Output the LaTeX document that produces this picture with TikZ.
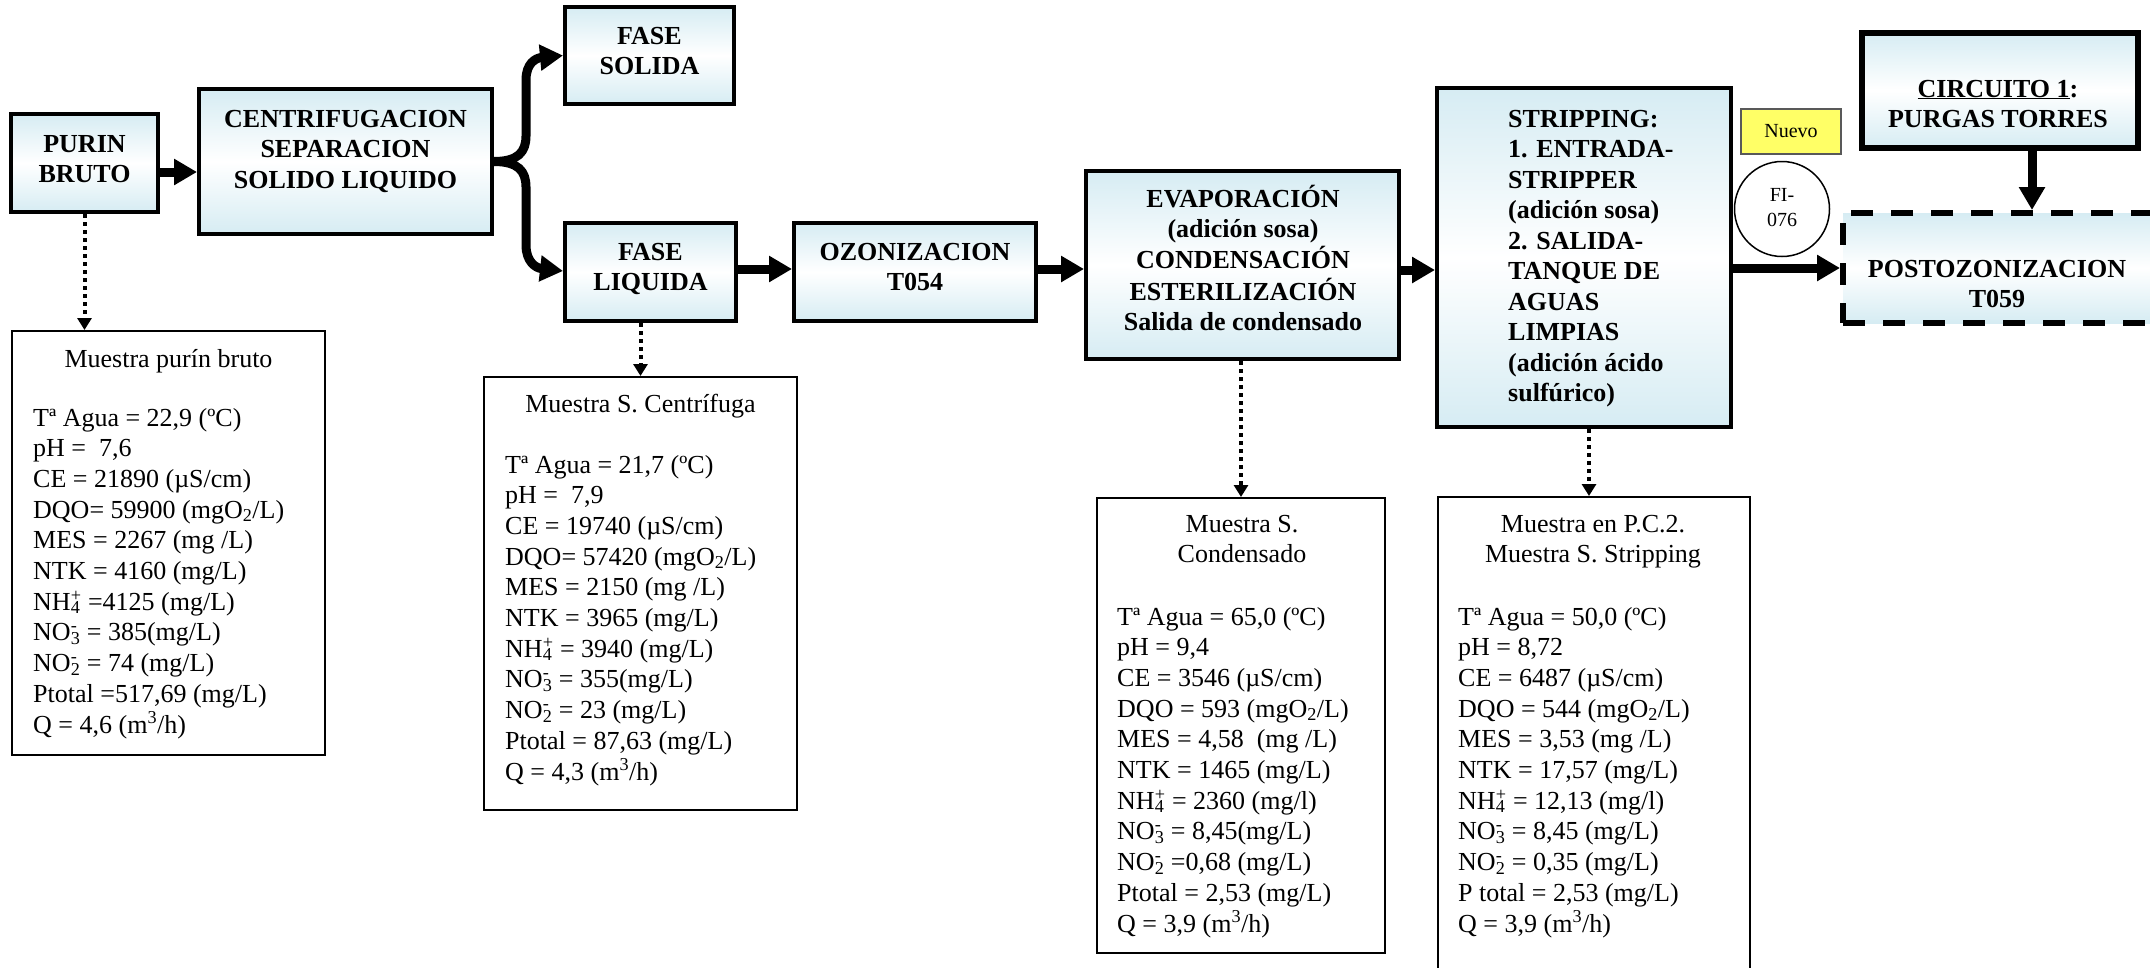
\documentclass[tikz,border=0pt]{standalone}
\usepackage{fontspec}
\setmainfont{Liberation Serif}[BoldFont={Liberation Serif Bold}]
\usetikzlibrary{arrows.meta,calc}
\definecolor{boxblue}{RGB}{214,236,243}
\definecolor{nuevoy}{RGB}{255,255,102}
\newcommand{\subsupx}[2]{\setbox0=\hbox{\textsubscript{#1}}\setbox2=\hbox{\textsuperscript{#2}}\ifdim\wd0>\wd2\relax\rlap{\box2\relax}\box0\relax\else\rlap{\box0\relax}\box2\relax\fi}
\newcommand{\tabC}[1]{\begin{tabular}[t]{@{}c@{}}#1\end{tabular}}
\newcommand{\tabL}[1]{\begin{tabular}[t]{@{}l@{}}#1\end{tabular}}
\tikzset{
  proc/.style={draw=black, line width=4pt, top color=boxblue, bottom color=boxblue, middle color=white, inner sep=0pt},
  ptext/.style={font=\bfseries\fontsize{26}{30.5}\selectfont, inner sep=0pt, anchor=base},
  sbox/.style={draw=black, line width=2pt, fill=white, inner sep=0pt},
  stitle/.style={font=\fontsize{26}{30}\selectfont, inner sep=0pt, anchor=base},
  sdata/.style={font=\fontsize{26}{30.7}\selectfont, inner sep=0pt, anchor=base west},
  flow/.style={line width=9pt, -{Triangle[length=23pt,width=25pt]}},
  brace/.style={line width=9pt, line join=round, -{Triangle[length=23pt,width=25pt]}},
  samp/.style={line width=4pt, dash pattern=on 4pt off 4pt, -{Triangle[length=12pt,width=14pt]}}
}
\begin{document}
\begin{tikzpicture}[x=1pt,y=-1pt]
\useasboundingbox (0,0) rectangle (2150,967);
% process boxes
\node[proc, minimum width=147pt, minimum height=98pt] (purin) at (84.5,163) {};
\node[ptext] (purintx) at (84.5,152) {\tabC{PURIN\\BRUTO}};
\node[proc, minimum width=293pt, minimum height=145pt] (centrif) at (345.5,161.5) {};
\node[ptext] (centriftx) at (345.5,127) {\tabC{CENTRIFUGACION\\SEPARACION\\SOLIDO LIQUIDO}};
\node[proc, minimum width=169pt, minimum height=97pt] (solida) at (649.5,55.5) {};
\node[ptext] (solidatx) at (649.5,44) {\tabC{FASE\\SOLIDA}};
\node[proc, minimum width=171pt, minimum height=98pt] (liquida) at (650.5,272) {};
\node[ptext] (liquidatx) at (650.5,260) {\tabC{FASE\\LIQUIDA}};
\node[proc, minimum width=242pt, minimum height=98pt] (ozon) at (915,272) {};
\node[ptext] (ozontx) at (915,260) {\tabC{OZONIZACION\\T054}};
\node[proc, minimum width=313pt, minimum height=188pt] (evap) at (1242.5,265) {};
\node[ptext] (evaptx) at (1243,207) {\tabC{EVAPORACIÓN\\(adición sosa)\\CONDENSACIÓN\\ESTERILIZACIÓN\\Salida de condensado}};
\node[proc, minimum width=294pt, minimum height=339pt] (strip) at (1584,257.5) {};
\node[ptext, anchor=base west] (striptx) at (1508,127) {\tabL{STRIPPING:\\1. ENTRADA-\\STRIPPER\\(adición sosa)\\2. SALIDA-\\TANQUE DE\\AGUAS\\LIMPIAS\\(adición ácido\\sulfúrico)}};
\node[draw=black!65, line width=1.5pt, fill=nuevoy, minimum width=100pt, minimum height=45pt, inner sep=0pt, font=\fontsize{20}{24}\selectfont] (nuevo) at (1791,131.5) {Nuevo};
\node[circle, draw=black, line width=1.5pt, fill=white, minimum size=95pt, inner sep=0pt, font=\fontsize{20}{25}\selectfont] (fi) at (1782,209) {\tabC{FI-\\076}};
\node[proc, line width=6pt, minimum width=276pt, minimum height=115pt] (circ) at (2000,90.5) {};
\node[ptext] (circtx) at (1998,97) {\tabC{\underline{CIRCUITO 1}:\\PURGAS TORRES}};
\node[proc, line width=6pt, dash pattern=on 22pt off 18pt, minimum width=340pt, minimum height=110pt] (postoz) at (2013,268) {};
\node[ptext] (postoztx) at (1997,277) {\tabC{POSTOZONIZACION\\T059}};
% sample boxes
\node[sbox, minimum width=313pt, minimum height=424pt] (m1) at (168.5,543) {};
\node[stitle] (m1t) at (168.5,367) {Muestra purín bruto};
\node[sdata] (m1d) at (33,426) {\tabL{Tª Agua = 22,9 (ºC)\\pH = ~7,6\\CE = 21890 (µS/cm)\\DQO= 59900 (mgO\textsubscript{2}/L)\\MES = 2267 (mg /L)\\NTK = 4160 (mg/L)\\NH\subsupx{4}{+} =4125 (mg/L)\\NO\subsupx{3}{-} = 385(mg/L)\\NO\subsupx{2}{-} = 74 (mg/L)\\Ptotal =517,69 (mg/L)\\Q = 4,6 (m\textsuperscript{3}/h)}};
\node[sbox, minimum width=313pt, minimum height=433pt] (m2) at (640.5,593.5) {};
\node[stitle] (m2t) at (640.5,412) {Muestra S. Centrífuga};
\node[sdata] (m2d) at (505,473) {\tabL{Tª Agua = 21,7 (ºC)\\pH = ~7,9\\CE = 19740 (µS/cm)\\DQO= 57420 (mgO\textsubscript{2}/L)\\MES = 2150 (mg /L)\\NTK = 3965 (mg/L)\\NH\subsupx{4}{+} = 3940 (mg/L)\\NO\subsupx{3}{-} = 355(mg/L)\\NO\subsupx{2}{-} = 23 (mg/L)\\Ptotal = 87,63 (mg/L)\\Q = 4,3 (m\textsuperscript{3}/h)}};
\node[sbox, minimum width=288pt, minimum height=455pt] (m3) at (1241,725.5) {};
\node[stitle] (m3t) at (1242,532) {\tabC{Muestra S.\\Condensado}};
\node[sdata] (m3d) at (1117,625) {\tabL{Tª Agua = 65,0 (ºC)\\pH = 9,4\\CE = 3546 (µS/cm)\\DQO = 593 (mgO\textsubscript{2}/L)\\MES = 4,58 ~(mg /L)\\NTK = 1465 (mg/L)\\NH\subsupx{4}{+} = 2360 (mg/l)\\NO\subsupx{3}{-} = 8,45(mg/L)\\NO\subsupx{2}{-} =0,68 (mg/L)\\Ptotal = 2,53 (mg/L)\\Q = 3,9 (m\textsuperscript{3}/h)}};
\node[sbox, minimum width=312pt, minimum height=493pt] (m4) at (1594,743.5) {};
\node[stitle] (m4t) at (1593,532) {\tabC{Muestra en P.C.2.\\Muestra S. Stripping}};
\node[sdata] (m4d) at (1458,625) {\tabL{Tª Agua = 50,0 (ºC)\\pH = 8,72\\CE = 6487 (µS/cm)\\DQO = 544 (mgO\textsubscript{2}/L)\\MES = 3,53 (mg /L)\\NTK = 17,57 (mg/L)\\NH\subsupx{4}{+} = 12,13 (mg/l)\\NO\subsupx{3}{-} = 8,45 (mg/L)\\NO\subsupx{2}{-} = 0,35 (mg/L)\\P total = 2,53 (mg/L)\\Q = 3,9 (m\textsuperscript{3}/h)}};
% flow arrows
\draw[flow] ([yshift=-9pt]purin.east) -- ([yshift=-9pt]purin.east -| centrif.west);
\draw[brace] (centrif.east) .. controls (518,161.5) and (526,152) .. (526,136) -- (526,80) .. controls (526,63) and (536,58) .. (solida.west);
\draw[brace] (centrif.east) .. controls (518,161.5) and (526,171) .. (526,187) -- (526,245) .. controls (526,262) and (536,268) .. ([yshift=1pt]liquida.west);
\draw[flow] ([yshift=3pt]liquida.east) -- ([yshift=3pt]liquida.east -| ozon.west);
\draw[flow] ([yshift=3pt]ozon.east) -- ([yshift=3pt]ozon.east -| evap.west);
\draw[flow] ([yshift=-5pt]evap.east) -- ([yshift=-5pt]evap.east -| strip.west);
\draw[flow] (postoz.west -| strip.east) -- (postoz.west);
\draw[flow] ([xshift=32pt]circ.south) -- ([xshift=32pt]circ.south |- postoz.north);
% sample arrows
\draw[samp] (purin.south) -- (purin.south |- m1.north);
\draw[samp] (m2.north |- liquida.south) -- (m2.north);
\draw[samp] (m3.north |- evap.south) -- (m3.north);
\draw[samp] ([xshift=-5pt]m4.north |- strip.south) -- ([xshift=-5pt]m4.north);
\end{tikzpicture}
\end{document}
